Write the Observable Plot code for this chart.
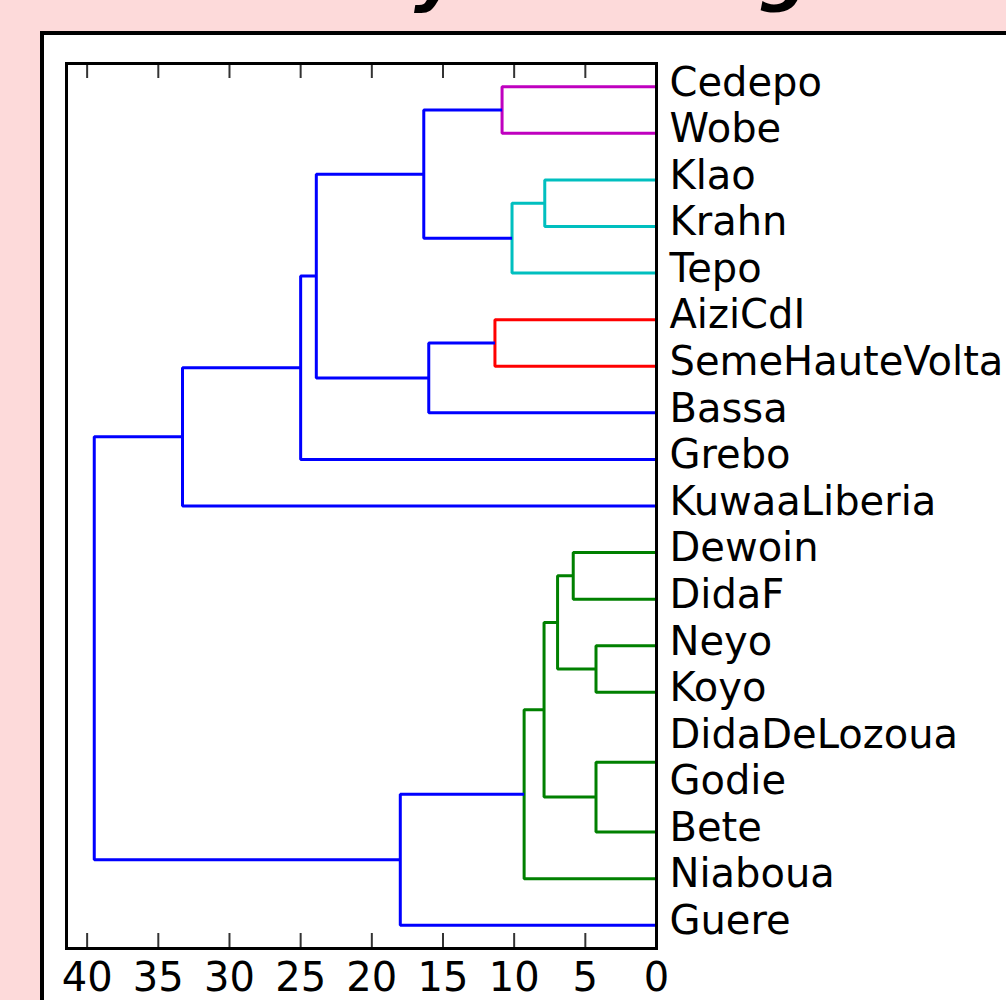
<!DOCTYPE html>
<html><head><meta charset="utf-8">
<script src="https://cdn.jsdelivr.net/npm/d3@7"></script>
<script src="https://cdn.jsdelivr.net/npm/@observablehq/plot@0.6"></script>
<style>
html,body{margin:0;padding:0;width:1006px;height:1000px;overflow:hidden;background:#fddada;}
#title{position:absolute;left:0;top:-60px;white-space:nowrap;font-family:"DejaVu Sans";font-weight:bold;font-style:italic;font-size:69px;color:#000;line-height:1;margin:0;}
#panel{position:absolute;left:40px;top:31px;width:1100px;height:1100px;background:#fff;border:4px solid #000;box-sizing:border-box;}
#chart{position:absolute;left:0;top:0;}
</style></head><body>
<h1 id="title">Kru similarit<span id="ychar">y</span> dendrogram</h1>
<div id="panel"></div>
<div id="chart"></div>
<script>
// Leaves, top to bottom
const leaves = ["Cedepo","Wobe","Klao","Krahn","Tepo","AiziCdI","SemeHauteVolta","Bassa","Grebo","KuwaaLiberia","Dewoin","DidaF","Neyo","Koyo","DidaDeLozoua","Godie","Bete","Niaboua","Guere"];
// Merges (scipy-like): index < 19 is a leaf, otherwise merge (index - 19)
const mergeLeft   = [0, 2, 20, 19, 5, 23, 22, 25, 26, 10, 12, 28, 14, 31, 30, 33, 34, 27];
const mergeRight  = [1, 3, 4, 21, 6, 7, 24, 8, 9, 11, 13, 29, 15, 16, 32, 17, 18, 35];
const mergeHeight = [10.85, 7.85, 10.15, 16.35, 11.35, 16.0, 23.9, 25.0, 33.3, 5.85, 4.25, 6.95, 0, 4.25, 7.9, 9.3, 18.0, 39.5];
const mergeColor  = ["#bf00bf","#00bfbf","#00bfbf","#0000ff","#ff0000","#0000ff","#0000ff","#0000ff","#0000ff","#008000","#008000","#008000","#008000","#008000","#008000","#008000","#0000ff","#0000ff"];
const xTicks = [0, 5, 10, 15, 20, 25, 30, 35, 40];

// Build link paths
const nodeY = leaves.map((_, i) => i + 0.5);
const nodeH = leaves.map(() => 0);
const segs = [];
mergeLeft.forEach((a, k) => {
  const b = mergeRight[k], h = mergeHeight[k], c = mergeColor[k];
  const ya = nodeY[a], yb = nodeY[b];
  segs.push({id: k, x: nodeH[a], y: ya, c});
  segs.push({id: k, x: h, y: ya, c});
  segs.push({id: k, x: h, y: yb, c});
  segs.push({id: k, x: nodeH[b], y: yb, c});
  nodeY.push((ya + yb) / 2);
  nodeH.push(h);
});

const W = 1006, H = 1000, mL = 66, mR = 350, mT = 63, mB = 52;
const frameH = H - mT - mB;
const tickLen = 15;

const chart = Plot.plot({
  width: W, height: H,
  marginLeft: mL, marginRight: mR, marginTop: mT, marginBottom: mB,
  style: {background: "transparent", overflow: "visible", fontFamily: "DejaVu Sans"},
  x: {domain: [41.45, 0], axis: null},
  y: {domain: [0, leaves.length], reverse: true, axis: null},
  color: {type: "identity"},
  marks: [
    Plot.line(segs, {x: "x", y: "y", z: "id", stroke: "c", strokeWidth: 3, strokeLinejoin: "miter", strokeLinecap: "butt"}),
    Plot.tickX(xTicks, {x: d => d, stroke: "#333", strokeWidth: 2, insetBottom: frameH - tickLen}),
    Plot.tickX(xTicks, {x: d => d, stroke: "#333", strokeWidth: 2, insetTop: frameH - tickLen}),
    Plot.frame({stroke: "#000", strokeWidth: 3}),
    Plot.axisX(xTicks, {anchor: "bottom", label: null, tickSize: 0, tickPadding: 14, fontSize: 40, fill: "#000", tickFormat: d => String(d)}),
    Plot.text(leaves, {x: () => 0, y: (d, i) => i + 0.5, text: d => d, textAnchor: "start", dx: 13, dy: -4, fontSize: 40, fill: "#000"})
  ]
});
document.getElementById("chart").appendChild(chart);

// Align title so the visible descenders match
const ySpan = document.getElementById("ychar");
const title = document.getElementById("title");
const r = ySpan.getBoundingClientRect();
title.style.left = (414 - r.left) + "px";
</script>
</body></html>
